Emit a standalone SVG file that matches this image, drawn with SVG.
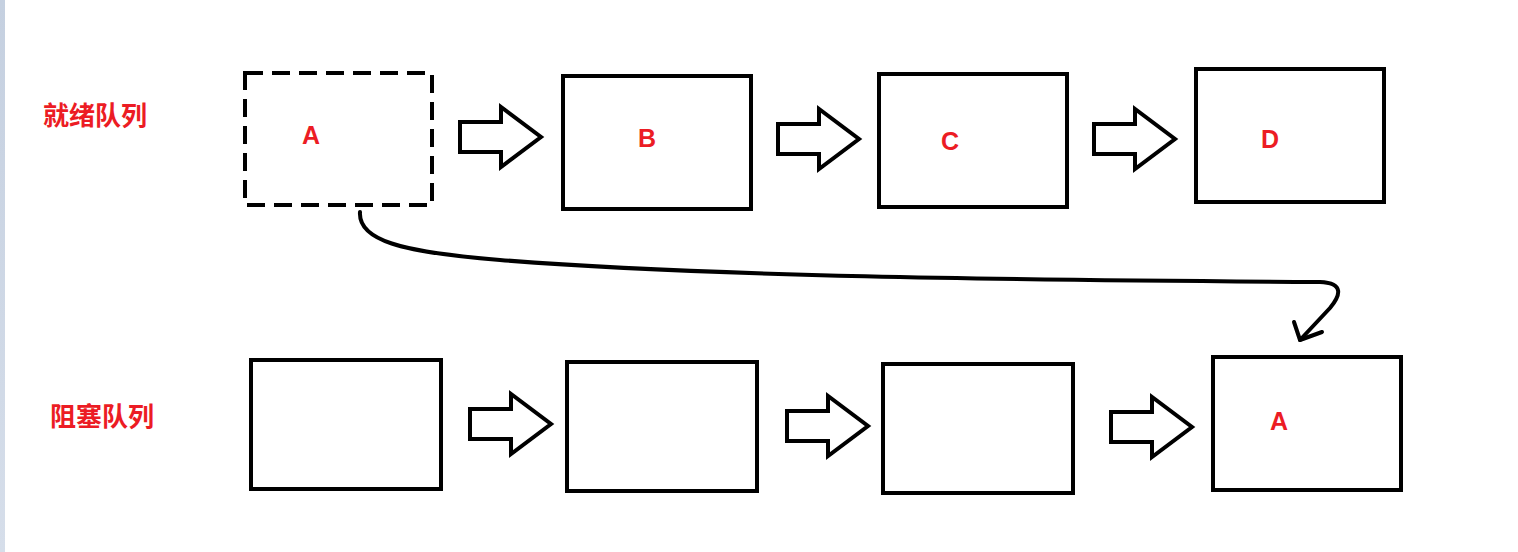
<svg xmlns="http://www.w3.org/2000/svg" width="1518" height="552" viewBox="0 0 1518 552">
<defs>
<linearGradient id="strip" x1="0" y1="0" x2="0" y2="1"><stop offset="0" stop-color="#c5d0e0"/><stop offset="1" stop-color="#d6deea"/></linearGradient>
<style>
.box{fill:none;stroke:#000;stroke-width:4}
.dash{stroke-dasharray:18 9}
.arr{fill:#fff;stroke:#000;stroke-width:4;stroke-linejoin:miter}
.lbl{font-family:"Microsoft YaHei","Noto Sans CJK SC",sans-serif;font-weight:bold;font-size:26px;fill:#ec1c24}
.let{font-family:"Liberation Sans",Arial,sans-serif;font-weight:bold;font-size:25px;fill:#ec1c24;text-anchor:middle}
.conn{fill:none;stroke:#000;stroke-width:4;stroke-linecap:round;stroke-linejoin:round}
</style>
</defs>
<rect width="1518" height="552" fill="#fff"/>
<rect x="0" y="0" width="5" height="552" fill="url(#strip)"/>
<text class="lbl" x="43" y="125">就绪队列</text>
<text class="lbl" x="50" y="426">阻塞队列</text>
<g id="ready-A"><rect class="box dash" x="245" y="73" width="187" height="132"/><text class="let" x="311" y="144">A</text></g>
<g id="ready-B"><rect class="box" x="563" y="76" width="188" height="133"/><text class="let" x="647" y="147">B</text></g>
<g id="ready-C"><rect class="box" x="879" y="74" width="188" height="133"/><text class="let" x="950" y="150">C</text></g>
<g id="ready-D"><rect class="box" x="1196" y="69" width="188" height="133"/><text class="let" x="1270" y="148">D</text></g>
<g id="blocked-1"><rect class="box" x="251" y="360" width="190" height="129"/></g>
<g id="blocked-2"><rect class="box" x="567" y="362" width="190" height="129"/></g>
<g id="blocked-3"><rect class="box" x="883" y="364" width="190" height="129"/></g>
<g id="blocked-A"><rect class="box" x="1213" y="357" width="188" height="133"/><text class="let" x="1279" y="430">A</text></g>
<g id="connectors">
<path class="arr" d="M460,122 H501 V107 L541,137 L501,167 V152 H460 Z"/>
<path class="arr" d="M778,124 H819 V109 L859,139 L819,169 V154 H778 Z"/>
<path class="arr" d="M1094,124 H1135 V109 L1175,139 L1135,169 V154 H1094 Z"/>
<path class="arr" d="M470,409 H511 V394 L551,424 L511,454 V439 H470 Z"/>
<path class="arr" d="M787,411 H828 V396 L868,426 L828,456 V441 H787 Z"/>
<path class="arr" d="M1111,412 H1152 V397 L1192,427 L1152,457 V442 H1111 Z"/>
<path class="conn" d="M360,212 C358,240 400,252 500,260 C700,276 1000,280 1320,282 C1345,283 1340,296 1330,308 L1300,340"/>
<path class="conn" d="M1294,322 L1300,340 L1322,332"/>
</g>
</svg>
